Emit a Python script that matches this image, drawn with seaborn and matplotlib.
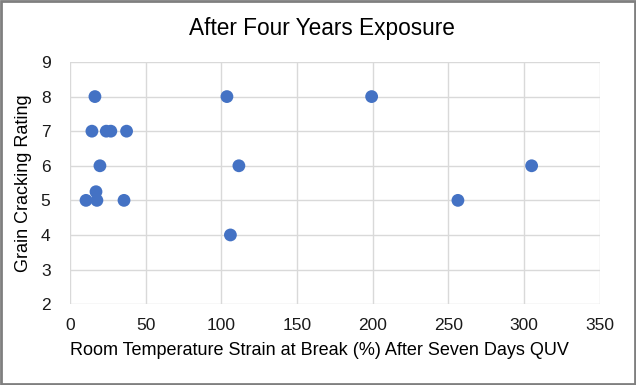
import pandas as pd
import matplotlib.pyplot as plt
import seaborn as sns

# strain at break (%) vs grain cracking rating
strain = [16.5, 14.5, 24, 27, 37.4, 19.8, 17.2, 10.6, 17.8, 35.7,
          103.7, 111.6, 106, 199.3, 256.3, 305]
rating = [8, 7, 7, 7, 7, 6, 5.25, 5, 5, 5,
          8, 6, 4, 8, 5, 6]

df = pd.DataFrame({'strain': strain, 'rating': rating})

sns.set_theme(style="white")
plt.rcParams['font.family'] = ['Liberation Sans', 'DejaVu Sans']

fig = plt.figure(figsize=(6.36, 3.85), dpi=100)
ax = fig.add_axes([0.110, 0.210, 0.833, 0.629])

sns.scatterplot(data=df, x='strain', y='rating', ax=ax, color='#4472C4',
                s=85, edgecolor='none', zorder=3)

ax.set_xlim(0, 350)
ax.set_ylim(2, 9)
ax.set_xticks(range(0, 351, 50))
ax.set_yticks(range(2, 10))
ax.grid(True, color='#D9D9D9', linewidth=1)
for s in ax.spines.values():
    s.set_visible(False)
ax.tick_params(axis='x', length=0, labelsize=12.5, colors='#1a1a1a', pad=10)
ax.tick_params(axis='y', length=0, labelsize=12.5, colors='#1a1a1a', pad=14)

# Excel centres title and x label on the chart area, not the plot area
fig.text(0.506, 0.927, 'After Four Years Exposure', fontsize=16.3, color='black',
         ha='center', va='center')
ax.set_xlabel('Room Temperature Strain at Break (%) After Seven Days QUV',
              fontsize=13, color='black', labelpad=6)
ax.xaxis.set_label_coords(0.47, -0.155)
ax.set_ylabel('Grain Cracking Rating', fontsize=13, color='black', labelpad=6)

# outer border
fig.patches.append(plt.Rectangle((0.002, 0.003), 0.996, 0.994, transform=fig.transFigure,
                                 fill=False, edgecolor='#7F7F7F', linewidth=2))

fig.savefig('out.png', dpi=100)
